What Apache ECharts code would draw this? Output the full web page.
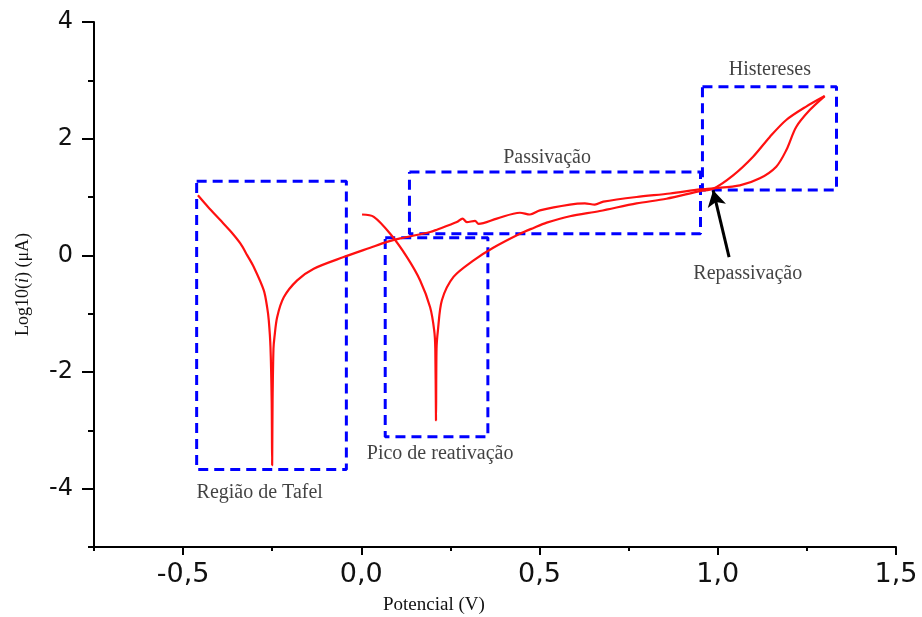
<!DOCTYPE html>
<html>
<head>
<meta charset="utf-8">
<script src="https://cdn.jsdelivr.net/npm/echarts@6/dist/echarts.min.js"></script>
<style>html,body{margin:0;padding:0;background:#fff}#c{width:922px;height:617px}</style>
</head>
<body>
<div id="c"></div>
<script>
// Axis ticks / labels
const xMajorTicks = [-0.5, 0, 0.5, 1.0, 1.5];
const yMajorTicks = [-4, -2, 0, 2, 4];

// Forward scan (Tafel -> passivation -> hysteresis)
const forwardScan = [
  [-0.4585,1.03],[-0.43,0.83],[-0.395,0.60],[-0.365,0.40],[-0.339,0.20],[-0.32,0.0],
  [-0.3017,-0.20],[-0.2736,-0.60],[-0.2640,-0.90],[-0.2596,-1.12],[-0.2549,-1.57],
  [-0.2515,-2.5],[-0.2502,-3.6],[-0.2490,-2.5],[-0.2465,-1.60],[-0.2437,-1.40],
  [-0.2362,-1.06],[-0.2176,-0.72],[-0.18,-0.43],[-0.1335,-0.23],[-0.0495,-0.03],
  [0.025,0.13],[0.072,0.23],[0.109,0.29],[0.193,0.40],[0.212,0.44],[0.268,0.57],
  [0.284,0.63],[0.296,0.57],[0.319,0.59],[0.329,0.54],[0.380,0.63],[0.445,0.73],
  [0.473,0.70],[0.501,0.77],[0.585,0.87],[0.627,0.89],[0.655,0.87],[0.679,0.92],
  [0.772,1.00],[0.866,1.06],[0.95,1.13],[0.987,1.15],
  [1.062,1.20],[1.118,1.32],[1.164,1.52],[1.192,1.80],[1.22,2.20],[1.258,2.49],[1.30,2.73]
];

// Reverse scan (hysteresis -> reactivation peak)
const reverseScan = [
  [1.30,2.73],[1.248,2.55],[1.192,2.32],[1.146,2.03],[1.099,1.69],[1.043,1.37],
  [0.987,1.14],[0.95,1.10],[0.856,0.97],[0.772,0.89],[0.669,0.76],[0.585,0.67],
  [0.52,0.56],[0.483,0.47],[0.445,0.37],[0.37,0.13],[0.315,-0.086],[0.2586,-0.37],
  [0.226,-0.77],[0.2148,-1.29],[0.211,-1.60],[0.2095,-2.83],[0.2075,-1.60],
  [0.2045,-1.29],[0.193,-0.89],[0.165,-0.43],[0.128,-0.03],[0.081,0.37],
  [0.035,0.66],[0.002,0.70]
];

// Annotation boxes: [xMin, xMax, yMin, yMax]
const boxTafel = [-0.462, -0.042, -3.67, 1.27];
const boxPico = [0.067, 0.355, -3.11, 0.30];
const boxPassivacao = [0.135, 0.9515, 0.37, 1.43];
const boxHisterese = [0.957, 1.333, 1.12, 2.89];

// Annotation labels: [x, y, text]
const annotations = [
  [1.146, 3.18, 'Histereses'],
  [0.521, 1.68, 'Passivação'],
  [1.084, -0.31, 'Repassivação'],
  [0.221, -3.40, 'Pico de reativação'],
  [-0.285, -4.07, 'Região de Tafel']
];

// Repassivation arrow: tail -> head
const arrowRepass = [[1.0317, -0.03], [0.987, 1.115]];

function rect(b) {
  return [[b[0],b[3]],[b[1],b[3]],[b[1],b[2]],[b[0],b[2]],[b[0],b[3]]];
}

const chart = echarts.init(document.getElementById('c'), null, {renderer: 'canvas'});
const fmtComma = v => (Math.abs(v) < 1e-9 ? 0 : v).toFixed(1).replace('.', ',');

const boxStyle = {color: '#0000ff', width: 3, type: [10, 6]};
const boxSeries = [boxTafel, boxPico, boxPassivacao, boxHisterese].map(b => ({
  type: 'line', data: rect(b), symbol: 'none', silent: true, animation: false,
  lineStyle: boxStyle, z: 3
}));

const curveStyle = {color: '#ff1010', width: 2.2};

chart.setOption({
  animation: false,
  backgroundColor: '#fff',
  grid: {left: 94, right: 26, top: 22, bottom: 70},
  xAxis: [{
    type: 'value', min: -0.75, max: 1.5, interval: 0.25,
    axisLine: {show: true, onZero: false, lineStyle: {color: '#000', width: 2}},
    axisTick: {show: true, customValues: xMajorTicks, length: 8, lineStyle: {color: '#000', width: 2}},
    axisLabel: {customValues: xMajorTicks, formatter: fmtComma, margin: 14,
      fontFamily: 'DejaVu Sans', fontSize: 27, color: '#111'},
    splitLine: {show: false}
  }, {
    type: 'value', min: -0.75, max: 1.5, interval: 0.25, position: 'bottom',
    axisLine: {show: false, onZero: false},
    axisTick: {show: true, length: 4, lineStyle: {color: '#000', width: 2}},
    axisLabel: {show: false}, splitLine: {show: false}
  }],
  yAxis: [{
    type: 'value', min: -5, max: 4, interval: 1,
    axisLine: {show: true, onZero: false, lineStyle: {color: '#000', width: 2}},
    axisTick: {show: true, customValues: yMajorTicks, length: 12, lineStyle: {color: '#000', width: 2}},
    axisLabel: {customValues: yMajorTicks, margin: 21, fontFamily: 'DejaVu Sans', fontSize: 24, color: '#111'},
    splitLine: {show: false},
    name: '{a|Log10(}{b|i}{a|) (μA)}',
    nameLocation: 'middle', nameGap: 62, nameRotate: 90,
    nameTextStyle: {rich: {
      a: {fontFamily: 'Liberation Serif', fontSize: 18, color: '#111'},
      b: {fontFamily: 'Liberation Serif', fontSize: 18, fontStyle: 'italic', color: '#111'}
    }}
  }, {
    type: 'value', min: -5, max: 4, interval: 1, position: 'left',
    axisLine: {show: false, onZero: false},
    axisTick: {show: true, length: 6, lineStyle: {color: '#000', width: 2}},
    axisLabel: {show: false}, splitLine: {show: false}
  }],
  graphic: [{
    type: 'text', left: 383, top: 596,
    style: {text: 'Potencial (V)', font: '19px "Liberation Serif"', fill: '#111'}
  }],
  series: [
    {type: 'line', data: forwardScan, symbol: 'none', smooth: 0.3, lineStyle: curveStyle, z: 4},
    {type: 'line', data: reverseScan, symbol: 'none', smooth: 0.3, lineStyle: curveStyle, z: 4},
    ...boxSeries,
    {
      type: 'line', data: [], symbol: 'none', z: 6,
      markLine: {
        silent: true, symbol: ['none', 'arrow'], symbolSize: [14, 16],
        label: {show: false},
        lineStyle: {color: '#000', width: 3, type: 'solid'},
        data: [[{coord: arrowRepass[0]}, {coord: arrowRepass[1]}]]
      }
    },
    {
      type: 'scatter', symbolSize: 0, silent: true, z: 7,
      data: annotations,
      label: {show: true, position: 'inside', formatter: p => p.value[2],
        fontFamily: 'Liberation Serif', fontSize: 20, color: '#111'}
    }
  ]
});
</script>
</body>
</html>
